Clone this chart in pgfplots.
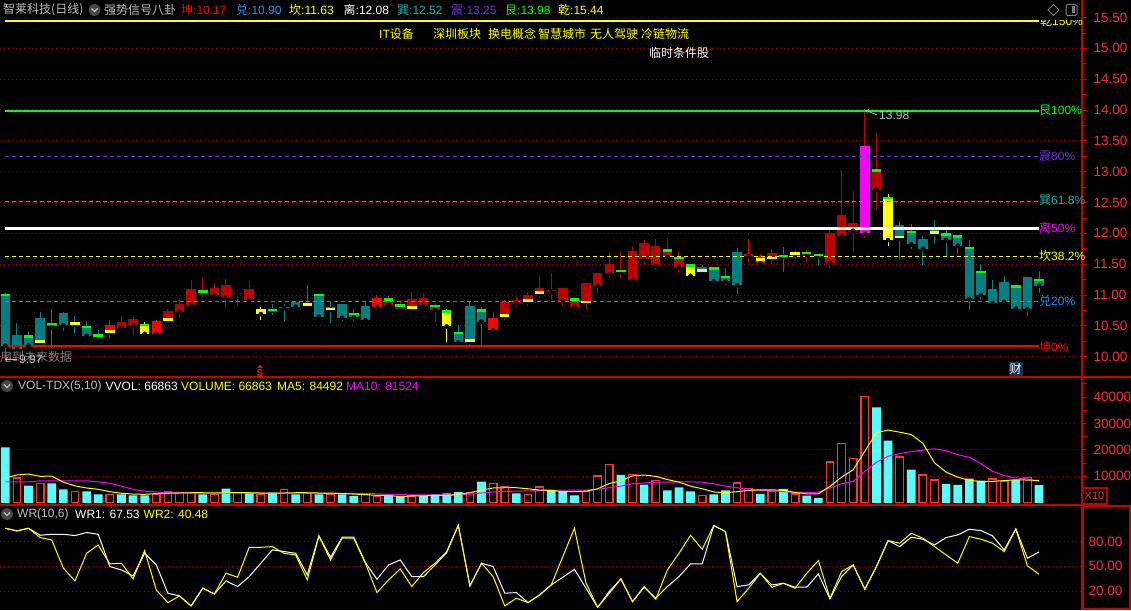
\documentclass[border=0pt]{standalone}
\usepackage{pgfplots}
\pgfplotsset{compat=1.18}
\usepackage{pgfplotstable}
\usepackage{fontspec}
\setmainfont{Liberation Sans}
\newfontfamily\cjk{Noto Sans CJK SC}
\definecolor{tealc}{RGB}{0,128,128}
\definecolor{dred}{RGB}{190,0,0}
\definecolor{bred}{RGB}{255,0,0}
\definecolor{yel}{RGB}{255,255,0}
\definecolor{mag}{RGB}{255,0,255}
\definecolor{grn}{RGB}{0,255,0}
\definecolor{vcyan}{RGB}{85,255,255}
\definecolor{vred}{RGB}{255,50,50}
\definecolor{gridred}{RGB}{150,0,0}
\definecolor{axred}{RGB}{200,0,0}
\definecolor{lblred}{RGB}{255,45,45}
\definecolor{dui}{RGB}{30,144,255}
\definecolor{xun}{RGB}{30,180,180}
\definecolor{zhen}{RGB}{110,50,220}
\definecolor{ttl}{RGB}{192,192,192}
\definecolor{caibg}{RGB}{25,50,85}
\newcommand\ft{\fontsize{12}{14}\selectfont}
\newcommand\fts{\fontsize{11}{13}\selectfont}

% candles: i, body low, body high, low, high
\pgfplotstableread{
i lo hi l h
0 10.18 11.02 9.97 11.03
1 10.12 10.35 10.08 10.54
2 10.18 10.35 10.135 10.40
3 10.23 10.63 10.19 10.73
4 10.49 10.55 10.135 10.77
5 10.51 10.71 10.41 10.72
6 10.52 10.56 10.38 10.66
7 10.34 10.50 10.31 10.58
8 10.33 10.36 10.30 10.44
23 10.75 10.77 10.67 10.85
24 10.79 10.81 10.56 10.85
25 10.81 10.89 10.77 10.89
26 10.83 10.86 10.81 11.16
27 10.65 11.02 10.65 11.02
28 10.76 10.80 10.54 10.89
29 10.63 10.86 10.58 10.86
30 10.64 10.71 10.58 10.77
31 10.59 10.82 10.58 10.88
39 10.23 10.40 10.22 10.52
40 10.24 10.82 10.19 10.89
41 10.57 10.77 10.17 10.80
60 11.38 11.45 11.35 11.49
61 11.22 11.45 11.22 11.45
62 11.22 11.31 11.16 11.43
63 11.16 11.70 11.02 11.76
67 11.62 11.64 11.38 11.78
70 11.635 11.655 11.49 11.66
77 11.92 12.14 11.57 12.20
78 11.82 12.04 11.74 12.15
79 11.75 11.91 11.48 11.96
80 11.99 12.05 11.83 12.22
81 11.89 12.00 11.63 12.12
82 11.80 11.97 11.67 11.97
83 10.935 11.78 10.76 11.90
84 11.00 11.39 10.94 11.50
85 10.87 11.09 10.87 11.24
86 10.89 11.21 10.89 11.31
87 10.78 11.16 10.75 11.16
88 10.77 11.29 10.66 11.30
89 11.15 11.26 11.03 11.39
}\tealtab
\pgfplotstableread{
i lo hi l h
9 10.39 10.51 10.31 10.59
13 10.37 10.58 10.35 10.59
32 10.81 10.95 10.76 11.00
42 10.43 10.63 10.40 10.72
64 11.63 11.67 11.54 11.91
65 11.52 11.63 11.50 11.66
}\bredtab
\pgfplotstableread{
i lo hi l h
10 10.47 10.57 10.43 10.66
11 10.51 10.61 10.35 10.65
14 10.58 10.74 10.54 10.77
15 10.72 10.85 10.64 10.95
16 10.84 11.10 10.80 11.25
17 11.04 11.08 10.96 11.28
18 11.00 11.11 10.97 11.20
19 10.96 11.16 10.81 11.26
20 11.02 11.04 10.82 11.08
21 10.92 11.10 10.90 11.23
33 10.84 10.95 10.83 10.99
34 10.78 10.85 10.77 10.92
35 10.78 10.94 10.75 11.05
36 10.84 10.95 10.82 11.04
37 10.76 10.84 10.57 10.87
43 10.65 10.89 10.59 10.92
44 10.87 10.92 10.80 10.98
45 10.89 11.00 10.82 11.05
46 11.02 11.11 10.95 11.31
47 11.06 11.08 10.92 11.35
48 10.91 11.11 10.82 11.12
49 10.80 10.95 10.77 10.97
50 10.87 11.19 10.77 11.19
51 11.15 11.36 11.04 11.36
52 11.35 11.50 11.27 11.68
53 11.38 11.40 11.30 11.70
54 11.24 11.71 11.24 11.79
55 11.58 11.84 11.49 11.89
56 11.48 11.79 11.41 11.91
57 11.61 11.74 11.61 11.93
58 11.46 11.62 11.35 11.71
66 11.58 11.675 11.50 11.74
68 11.65 11.70 11.57 11.73
69 11.65 11.70 11.54 11.74
71 11.52 12.00 11.43 12.12
72 11.95 12.30 11.95 13.02
73 12.04 12.16 11.70 12.69
75 12.71 13.04 12.38 13.63
}\dredtab
\pgfplotstableread{
i lo hi l h
12 10.37 10.53 10.35 10.56
22 10.69 10.77 10.59 10.80
38 10.49 10.75 10.24 10.77
59 11.31 11.50 11.27 11.51
76 11.89 12.59 11.79 12.64
}\yeltab
\pgfplotstableread{
i lo hi l h
74 12.00 13.41 11.92 13.98
}\magtab
\pgfplotstableread{
i y
0 11.00
2 10.33
4 10.53
7 10.48
8 10.345
12 10.51
17 11.06
23 10.76
27 11.00
30 10.69
33 10.93
34 10.83
37 10.82
38 10.73
39 10.38
41 10.75
49 10.93
53 11.39
57 11.72
58 11.60
59 11.48
61 11.43
62 11.29
67 11.63
69 11.68
70 11.645
75 13.02
76 12.57
78 12.02
81 11.98
82 11.95
83 11.76
84 11.37
87 11.14
89 11.24
}\gcap
\pgfplotstableread{
i y
3 10.25
6 10.535
9 10.41
14 10.60
26 10.845
28 10.775
35 10.80
40 10.26
43 10.67
45 10.91
46 11.04
50 10.89
60 11.40
65 11.575
66 11.60
68 11.675
77 11.94
80 12.01
}\ycap
% volume
\pgfplotstableread{
i v
1 9400
3 7300
6 4200
9 3100
13 3200
14 4200
15 3800
16 4000
18 3200
20 3800
22 3100
24 5100
26 3600
28 3100
31 3100
32 2500
35 2600
40 3800
42 7200
43 6000
45 3100
46 6000
50 4400
51 10100
52 14600
54 10600
56 8300
60 2700
63 7500
64 5300
66 4400
68 3300
71 15400
72 22300
73 16600
74 40100
77 17300
79 10500
80 8600
85 9000
86 8200
88 9700
}\volred
\pgfplotstableread{
i v
0 21000
2 6500
4 7300
5 5100
7 4300
8 3200
10 3200
11 2800
12 2800
17 3200
19 5400
21 3800
23 3800
25 3200
27 3200
29 3200
30 2500
33 2600
34 2300
36 2600
37 3200
38 3600
39 4000
41 8000
44 3600
47 4800
48 4100
49 2800
53 10600
55 6900
57 4700
58 5800
59 4300
61 3200
62 4700
65 3400
67 5300
69 2700
70 1900
75 36100
76 23500
78 12500
81 7200
82 6800
83 9100
84 8400
87 8700
89 6700
}\volcyan
\pgfplotstableread{
i m5 m10
0 9400 7900
1 10500 7900
2 10900 7900
3 10000 8300
4 10100 8300
5 7800 8300
6 6400 8300
7 5600 8300
8 5100 7900
9 4200 7400
10 3600 6300
11 3300 5100
12 3200 4400
13 3500 4100
14 3600 3800
15 3700 3800
16 3800 3700
17 3800 3700
18 3700 3700
19 3800 3700
20 3800 3700
21 3800 3700
22 3700 3700
23 3700 3700
24 3700 3700
25 3800 3700
26 3800 3700
27 3700 3600
28 3700 3600
29 3500 3600
30 3300 3500
31 3100 3500
32 2800 3400
33 2800 3200
34 2300 3100
35 2600 3000
36 2600 3000
37 2800 3000
38 2800 3000
39 3100 3100
40 3800 3200
41 4800 3700
42 5600 4100
43 5700 4300
44 5700 4400
45 5300 4500
46 4800 4700
47 4700 4800
48 4200 4800
49 4200 4800
50 4400 4800
51 5300 5100
52 7300 5700
53 8300 6300
54 10200 7200
55 10500 7500
56 10000 7800
57 8800 7800
58 7800 7900
59 6300 7900
60 5300 7800
61 4100 7200
62 3800 6300
63 4200 5700
64 4700 5200
65 4900 4700
66 4900 4600
67 4700 4200
68 3900 3900
69 3400 3900
70 3400 4000
71 6200 5600
72 9700 7200
73 12500 8100
74 19500 11900
75 26500 15300
76 27500 17600
77 26700 18600
78 25800 19400
79 22500 19900
80 15100 20400
81 11600 19700
82 9700 18200
83 8500 17200
84 8000 14800
85 8100 11900
86 8400 10300
87 8700 9400
88 8600 9000
89 8449 8152
}\volma
\pgfplotstableread{
i w1 w2
0 96.3 96.3
1 93.1 93.1
2 96.3 96.3
3 87.8 85.0
4 89.0 82.1
5 89.0 47.7
6 87.4 32.3
7 91.1 65.9
8 89.0 76.0
9 49.7 53.0
10 45.6 53.8
11 38.3 34.7
12 65.9 69.2
13 51.7 21.3
14 17.3 5.9
15 14.0 14.0
16 1.9 1.9
17 23.3 23.7
18 16.4 16.4
19 32.3 41.6
20 25.4 36.7
21 37.5 73.2
22 53.8 73.2
23 70.0 74.0
24 68.0 65.9
25 65.9 63.9
26 39.6 33.5
27 87.0 87.0
28 61.0 57.8
29 85.4 84.2
30 85.4 84.2
31 54.6 53.8
32 34.3 18.1
33 51.7 33.5
34 57.8 46.9
35 37.5 25.4
36 37.5 42.4
37 51.7 53.8
38 66.7 68.0
39 100 100
40 26.2 26.2
41 53.8 53.8
42 49.7 37.5
43 17.3 1.9
44 18.1 11.2
45 5.9 5.9
46 15.2 15.2
47 27.4 27.4
48 36.7 61.9
49 46.4 96.3
50 23.3 29.4
51 0.2 0.2
52 19.3 17.3
53 34.7 34.7
54 7.1 7.1
55 24.6 25.4
56 11.2 10.0
57 25.4 45.6
58 37.5 65.9
59 53.0 87.8
60 53.0 70.8
61 99.6 99.6
62 92.3 92.3
63 25.4 7.1
64 27.4 23.3
65 41.6 41.6
66 27.4 24.6
67 29.4 29.4
68 24.6 23.3
69 24.6 41.6
70 40.8 57.0
71 10.4 11.2
72 37.5 43.6
73 51.7 51.7
74 22.1 22.1
75 49.7 49.7
76 81.3 81.3
77 74.0 78.1
78 85.4 90.3
79 83.0 84.2
80 76.0 74.0
81 85.0 63.9
82 88.2 53.8
83 95.1 86.2
84 93.5 83.0
85 87.0 78.1
86 70.0 68.0
87 95.5 95.5
88 59.8 50.5
89 67.53 40.48
}\wrtab

\pgfplotsset{
  /pgf/number format/assume math mode=true,
  panel/.style={scale only axis, width=1082pt, xmin=-0.456, xmax=92.70,
    axis x line=none, axis y line*=right,
    y axis line style={draw=axred, line width=1.2pt},
    tick align=outside, major tick length=5pt, minor tick length=5pt,
    ytick style={draw=axred, line width=0.8pt},
    yticklabel style={font=\fontsize{13.5}{14}\selectfont, text=lblred, anchor=west, xshift=3pt},
    scaled y ticks=false},
  wick/.style={only marks, mark=none, forget plot, error bars/.cd, y dir=both, y explicit, error mark=none, error bar style={line width=1pt, #1}},
  body/.style={only marks, mark=none, forget plot, error bars/.cd, y dir=plus, y explicit, error mark=none, error bar style={line width=9.5pt, #1}},
}
\newcommand\candles[3]{%
  \addplot[wick=#2] table[x=i, y=lo, y error plus expr={\thisrow{h}-\thisrow{lo}}, y error minus expr={\thisrow{lo}-\thisrow{l}}] {#1};
  \addplot[body=#3] table[x=i, y=lo, y error plus expr={\thisrow{hi}-\thisrow{lo}}] {#1};
}

\begin{document}
\begin{tikzpicture}[x=1pt,y=1pt]
\fill[black] (0,0) rectangle (1131,610);

% ---------------- main price panel
\begin{axis}[panel, at={(0pt,233pt)}, anchor=south west, height=377pt,
  ymin=9.6705, ymax=15.7837,
  ytick={10,10.5,11,11.5,12,12.5,13,13.5,14,14.5,15,15.5},
  minor ytick={10.25,10.75,11.25,11.75,12.25,12.75,13.25,13.75,14.25,14.75,15.25},
  yticklabel={\pgfmathprintnumber[fixed,fixed zerofill,precision=2]{\tick}},
  ymajorgrids, major grid style={draw=gridred, line width=1pt, dash pattern=on 1pt off 3pt}]
\candles{\tealtab}{tealc}{tealc}
\candles{\bredtab}{bred}{bred}
\candles{\dredtab}{dred}{dred}
\candles{\yeltab}{yel}{yel}
\candles{\magtab}{dred}{mag}
\addplot[only marks, mark=-, mark size=4.75pt, mark options={line width=2.5pt, draw=grn}] table[x=i,y=y] {\gcap};
\addplot[only marks, mark=-, mark size=4.75pt, mark options={line width=2.5pt, draw=yel}] table[x=i,y=y] {\ycap};
% reference levels
\draw[yel, line width=2pt] (axis cs:0,15.44) -- (axis cs:89,15.44);
\draw[grn, line width=1.6pt] (axis cs:0,13.98) -- (axis cs:89,13.98);
\draw[zhen, line width=1pt, dash pattern=on 4pt off 3pt] (axis cs:0,13.25) -- (axis cs:89,13.25);
\draw[xun, line width=1pt, dash pattern=on 4pt off 3pt] (axis cs:0,12.52) -- (axis cs:89,12.52);
\draw[white, line width=2.6pt] (axis cs:0,12.08) -- (axis cs:89,12.08);
\draw[yel, line width=1.3pt, dash pattern=on 4pt off 3pt] (axis cs:0,11.63) -- (axis cs:89,11.63);
\draw[dui, line width=1.3pt, dash pattern=on 4pt off 3pt] (axis cs:0,10.90) -- (axis cs:89,10.90);
\draw[bred, line width=1.6pt] (axis cs:0,10.17) -- (axis cs:89,10.17);
\end{axis}

% ---------------- volume panel
\begin{axis}[panel, at={(0pt,105pt)}, anchor=south west, height=128pt,
  ymin=-832, ymax=47561,
  ytick={10000,20000,30000,40000},
  minor ytick={5000,15000,25000,35000,45000},
  yticklabel={\pgfmathprintnumber[fixed,precision=0,1000 sep={}]{\tick}}]
\draw[gridred, line width=1pt, dash pattern=on 1pt off 3pt] (axis cs:-1,10000) -- (axis cs:93,10000);
\draw[gridred, line width=1pt, dash pattern=on 1pt off 3pt] (axis cs:-1,20000) -- (axis cs:93,20000);
\draw[gridred, line width=1pt, dash pattern=on 1pt off 3pt] (axis cs:-1,30000) -- (axis cs:93,30000);
\addplot[ybar, bar width=8.7pt, bar shift=0pt, fill=vcyan, draw=none] table[x=i,y=v] {\volcyan};
\addplot[ybar, bar width=7.6pt, bar shift=0pt, fill=black, draw=vred, line width=1.2pt] table[x=i,y=v] {\volred};
\addplot[mag, line width=1pt, mark=none] table[x=i,y=m10] {\volma};
\addplot[yel, line width=1pt, mark=none] table[x=i,y=m5] {\volma};
\end{axis}

% ---------------- WR panel
\begin{axis}[panel, at={(0pt,0pt)}, anchor=south west, height=105pt,
  ymin=-3.1, ymax=124.6,
  ytick={20,50,80}, major tick length=0pt,
  yticklabel={\pgfmathprintnumber[fixed,fixed zerofill,precision=2]{\tick}},
  ymajorgrids, major grid style={draw=gridred, line width=1pt, dash pattern=on 1pt off 3pt}]
\addplot[white, line width=1pt, mark=none] table[x=i,y=w1] {\wrtab};
\addplot[yel, line width=1pt, mark=none] table[x=i,y=w2] {\wrtab};
\end{axis}

% ---------------- overlays (image coordinates, y downward)
\begin{scope}[shift={(0,610)}, yscale=-1]
\draw[axred, line width=1.5pt] (0,377) -- (1131,377);
\draw[axred, line width=1.5pt] (0,505) -- (1082,505);
\draw[axred, line width=1.2pt] (1082,0) -- (1082,610);
\draw[axred, line width=1.5pt] (1083,506) rectangle (1130,609.2);
\fill[black] (1083,488) rectangle (1107,504);
\draw[axred, line width=1.2pt] (1082,488) rectangle (1107,504);
\node[anchor=center, inner sep=0, text=lblred, font=\fts] at (1094.5,496) {X10};
\fill[bred] (257.5,375) rectangle (261.5,378);

% right-side level labels
\node[anchor=west, inner sep=0, text=yel, font=\ft] at (1040,21) {{\cjk 乾}150\%};
\fill[black] (1034,0) rectangle (1081,20.5);
\draw[gray, line width=1pt] (1053.5,4.5) -- (1059,10) -- (1053.5,15.5) -- (1048,10) -- cycle;
\draw[gray, line width=1pt, rounded corners=1.5pt] (1066,4.5) rectangle (1077,15.5);
\fill[gray] (1072,6.5) rectangle (1075,13.5);
\node[anchor=west, inner sep=0, text=grn, font=\ft] at (1039,110) {{\cjk 艮}100\%};
\node[anchor=west, inner sep=0, text=zhen, font=\ft] at (1039,156) {{\cjk 震}80\%};
\node[anchor=west, inner sep=0, text=xun, font=\ft] at (1039,200) {{\cjk 巽}61.8\%};
\node[anchor=west, inner sep=0, text=mag, font=\ft] at (1039,228) {{\cjk 离}50\%};
\node[anchor=west, inner sep=0, text=yel, font=\ft] at (1039,256) {{\cjk 坎}38.2\%};
\node[anchor=west, inner sep=0, text=dui, font=\ft] at (1039,301) {{\cjk 兑}20\%};
\node[anchor=west, inner sep=0, text=bred, font=\ft] at (1039,346.5) {{\cjk 坤}0\%};

% title row
\node[anchor=west, inner sep=0, text=ttl, font=\ft] at (3,10) {\cjk 智莱科技(日线)};
\fill[gray!55!black] (94.5,10) circle (6);
\draw[ttl, line width=1.3pt] (91.5,8.5) -- (94.5,11.5) -- (97.5,8.5);
\node[anchor=west, inner sep=0, text=ttl, font=\ft] at (104,10) {\cjk 强势信号八卦};
\node[anchor=west, inner sep=0, text=bred, font=\ft] at (181,10) {{\cjk 坤}:10.17};
\node[anchor=west, inner sep=0, text=dui, font=\ft] at (236,10) {{\cjk 兑}:10.90};
\node[anchor=west, inner sep=0, text=yel, font=\ft] at (289,10) {{\cjk 坎}:11.63};
\node[anchor=west, inner sep=0, text=white, font=\ft] at (343.5,10) {{\cjk 离}:12.08};
\node[anchor=west, inner sep=0, text=xun, font=\ft] at (397,10) {{\cjk 巽}:12.52};
\node[anchor=west, inner sep=0, text=zhen, font=\ft] at (451,10) {{\cjk 震}:13.25};
\node[anchor=west, inner sep=0, text=grn, font=\ft] at (505,10) {{\cjk 艮}:13.98};
\node[anchor=west, inner sep=0, text=yel, font=\ft] at (558,10) {{\cjk 乾}:15.44};

% concept tags
\node[anchor=west, inner sep=0, text=yel, font=\ft] at (379,34) {IT{\cjk 设备}};
\node[anchor=west, inner sep=0, text=yel, font=\ft] at (433,34) {\cjk 深圳板块};
\node[anchor=west, inner sep=0, text=yel, font=\ft] at (488,34) {\cjk 换电概念};
\node[anchor=west, inner sep=0, text=yel, font=\ft] at (538,34) {\cjk 智慧城市};
\node[anchor=west, inner sep=0, text=yel, font=\ft] at (590,34) {\cjk 无人驾驶};
\node[anchor=west, inner sep=0, text=yel, font=\ft] at (641,34) {\cjk 冷链物流};
\node[anchor=west, inner sep=0, text=white, font=\ft] at (649,53) {\cjk 临时条件股};

% annotations
\draw[ttl, line width=0.8pt, ->] (877,115) -- (866,110.5);
\node[anchor=west, inner sep=0, text=ttl, font=\ft] at (879,115.5) {13.98};
\node[anchor=west, inner sep=0, text=gray, font=\ft] at (0,356.5) {\cjk 用到未来数据};
\draw[ttl, line width=0.8pt, ->] (17,359.5) -- (5,359.5);
\node[anchor=west, inner sep=0, text=ttl, font=\ft] at (19,359.5) {9.97};
\fill[bred] (260,364.5) -- (263,368) -- (257,368) -- cycle;
\node[anchor=center, inner sep=0, text=bred, font=\fontsize{10}{10}\selectfont\bfseries] at (260,373) {S};
\node[anchor=center, fill=caibg, inner sep=1pt, text=white, font=\ft] at (1015.5,369) {\cjk 财};

% volume title
\fill[gray!55!black] (7,386) circle (6);
\draw[ttl, line width=1.3pt] (4,384.5) -- (7,387.5) -- (10,384.5);
\node[anchor=west, inner sep=0, text=ttl, font=\ft] at (18,386) {VOL-TDX(5,10)};
\node[anchor=west, inner sep=0, text=white, font=\ft] at (105.5,386) {VVOL: 66863};
\node[anchor=west, inner sep=0, text=yel, font=\ft] at (181,386) {VOLUME: 66863};
\node[anchor=west, inner sep=0, text=yel, font=\ft] at (277,386) {MA5: 84492};
\node[anchor=west, inner sep=0, text=mag, font=\ft] at (346,386) {MA10: 81524};

% WR title
\fill[gray!55!black] (7,514) circle (6);
\draw[ttl, line width=1.3pt] (4,512.5) -- (7,515.5) -- (10,512.5);
\node[anchor=west, inner sep=0, text=ttl, font=\ft] at (17,514) {WR(10,6)};
\node[anchor=west, inner sep=0, text=white, font=\ft] at (75,514) {WR1: 67.53};
\node[anchor=west, inner sep=0, text=yel, font=\ft] at (143.5,514) {WR2: 40.48};
\end{scope}
\pgfresetboundingbox
\useasboundingbox (0,0) rectangle (1131,610);
\end{tikzpicture}
\end{document}
